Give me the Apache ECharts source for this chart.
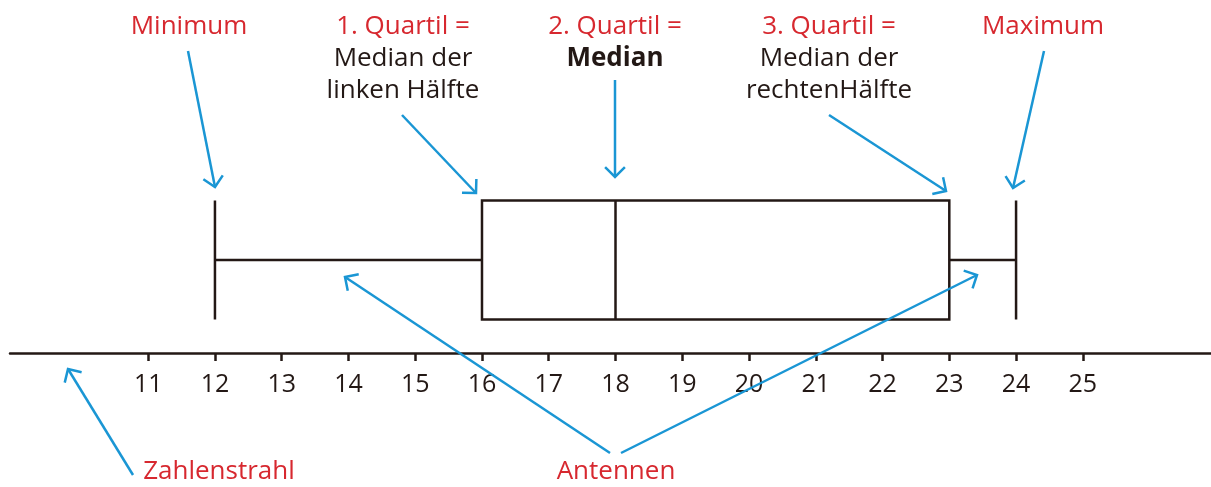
<!DOCTYPE html>
<html>
<head>
<meta charset="utf-8">
<script src="https://cdn.jsdelivr.net/npm/echarts@6/dist/echarts.min.js"></script>
<style>
  html, body { margin: 0; padding: 0; background: #fff; }
  #chart { width: 1211px; height: 487px; }
</style>
</head>
<body>
<div id="chart"></div>
<script>
// Kennwerte des Boxplots: Minimum, 1. Quartil, Median, 3. Quartil, Maximum
var boxValues = [12, 16, 18, 23, 24]
var categories = ['Werte']
var tickValues = [11, 12, 13, 14, 15, 16, 17, 18, 19, 20, 21, 22, 23, 24, 25]

var dark = '#231815'
var red = '#d7282f'
var blue = '#1a96d4'
var font = '"Open Sans", "Noto Sans", sans-serif'

function label (text, x, y, color, bold) {
  return {
    type: 'text',
    silent: true,
    style: {
      text: text,
      x: x,
      y: y,
      align: 'center',
      verticalAlign: 'middle',
      fill: color,
      font: (bold ? 'bold ' : '') + '26px ' + font
    }
  }
}

// Pfeil von (x1,y1) nach (x2,y2), Spitze am Ende
function arrow (x1, y1, x2, y2) {
  var a = Math.atan2(y2 - y1, x2 - x1)
  var len = 14
  var w1 = [x2 - len * Math.cos(a - Math.PI / 4), y2 - len * Math.sin(a - Math.PI / 4)]
  var w2 = [x2 - len * Math.cos(a + Math.PI / 4), y2 - len * Math.sin(a + Math.PI / 4)]
  var st = { stroke: blue, lineWidth: 2.5, fill: null }
  return {
    type: 'group',
    silent: true,
    z: 100,
    children: [
      { type: 'line', z: 100, shape: { x1: x1, y1: y1, x2: x2, y2: y2 }, style: st },
      { type: 'polyline', z: 100, shape: { points: [w1, [x2, y2], w2] }, style: st }
    ]
  }
}

var chart = echarts.init(document.getElementById('chart'))
chart.setOption({
  animation: false,
  grid: {
    left: 10,
    right: 0,
    top: 167,
    bottom: 134
  },
  xAxis: {
    type: 'value',
    min: 8.93,
    max: 26.92,
    splitLine: { show: false },
    axisLine: {
      show: true,
      lineStyle: { color: dark, width: 2.5 }
    },
    axisTick: {
      show: true,
      customValues: tickValues,
      length: 8,
      lineStyle: { color: dark, width: 2.5 }
    },
    axisLabel: {
      customValues: tickValues,
      margin: 19,
      color: dark,
      fontSize: 25,
      fontFamily: font
    }
  },
  yAxis: {
    type: 'category',
    data: categories,
    show: false
  },
  series: [{
    type: 'boxplot',
    boxWidth: [119, 119],
    silent: true,
    itemStyle: {
      color: 'rgba(255,255,255,0)',
      borderColor: dark,
      borderWidth: 2.5
    },
    data: [boxValues]
  }],
  graphic: [
    label('Minimum', 189, 27, red),
    label('1. Quartil =', 403, 27, red),
    label('Median der', 403, 59, dark),
    label('linken Hälfte', 403, 91, dark),
    label('2. Quartil =', 615, 27, red),
    label('Median', 615, 59, dark, true),
    label('3. Quartil =', 829, 27, red),
    label('Median der', 829, 59, dark),
    label('rechtenHälfte', 829, 91, dark),
    label('Maximum', 1043, 27, red),
    label('Zahlenstrahl', 219, 472, red),
    label('Antennen', 616, 472, red),
    arrow(188, 51, 215, 187),
    arrow(402, 115, 476, 193),
    arrow(615, 80, 615, 177),
    arrow(829, 115, 946, 191),
    arrow(1044, 51, 1013, 188),
    arrow(610, 453, 345, 277),
    arrow(621, 453, 977, 275),
    arrow(133, 475, 68, 369)
  ]
})
</script>
</body>
</html>
